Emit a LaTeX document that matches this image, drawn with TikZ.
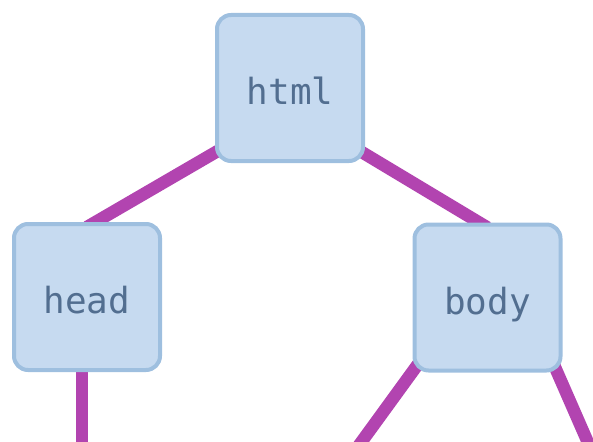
\documentclass[tikz,border=0pt]{standalone}
\usepackage{fontspec}
\newfontfamily\tagmono{DejaVu Sans Mono}
\usepackage{tikz}
\usetikzlibrary{positioning, backgrounds, calc}
\definecolor{tagBlue}{RGB}{198,218,240}
\definecolor{tagEdge}{RGB}{158,191,223}
\definecolor{tagText}{RGB}{82,110,144}
\definecolor{linkPurple}{RGB}{178,68,176}

\begin{document}
\begin{tikzpicture}[x=1pt, y=1pt,
    tag/.style={draw=tagEdge, line width=4pt, fill=tagBlue, rounded corners=14pt, minimum size=146pt, inner sep=0pt, font=\tagmono\fontsize{36}{36}\selectfont, text=tagText, text height=33pt, text depth=0pt},
    link/.style={line width=12.5pt, color=linkPurple}
]
\useasboundingbox (0,0) rectangle (593,-441);
\node[tag] (html) at (290,-88) {html};
\node[tag] (head) at (87,-297) {head};
\node[tag] (body) at (487.5,-297.5) {body};
\coordinate (headkid) at (82,-470);
\coordinate (bodykidl) at (341,-470);
\coordinate (bodykidr) at (600,-470);

\begin{scope}[on background layer]
\draw[link] ($(html.center)+(0,-21)$) -- ($(head.north)+(0,-5)$);
\draw[link] ($(html.center)+(0,-21)$) -- ($(body.north)+(0,-5)$);
\draw[link] ($(head.center)+(-5,0)$)  -- (headkid);
\draw[link] ($(body.center)+(-21,0)$) -- (bodykidl);
\draw[link] ($(body.center)+(37,0)$)  -- (bodykidr);
\end{scope}
\end{tikzpicture}
\end{document}
